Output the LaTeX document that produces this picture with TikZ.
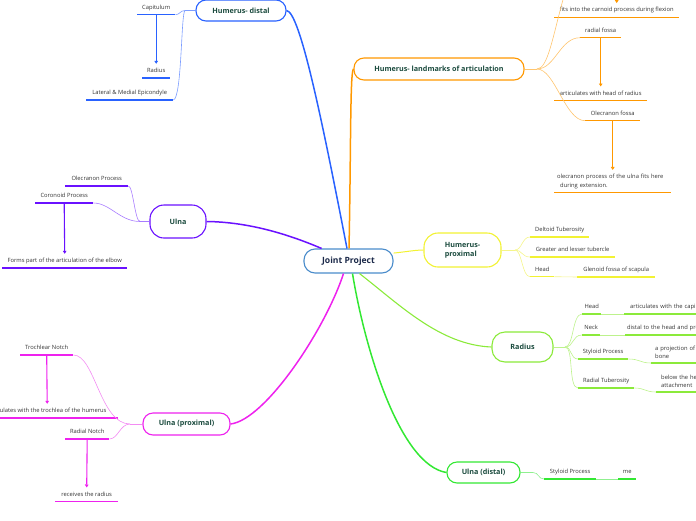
\documentclass[tikz,border=0pt]{standalone}
\usepackage{fontspec}
\setmainfont{Open Sans}
\usetikzlibrary{arrows.meta,calc}
\definecolor{cblue}{HTML}{2962FF}
\definecolor{lblue}{HTML}{7B9CFF}
\definecolor{corange}{HTML}{FF9800}
\definecolor{lorange}{HTML}{FFC56E}
\definecolor{cpurple}{HTML}{6A11FF}
\definecolor{lpurple}{HTML}{A77BFF}
\definecolor{cyellow}{HTML}{F2F233}
\definecolor{lyellow}{HTML}{F5F58A}
\definecolor{clime}{HTML}{8BEA3A}
\definecolor{llime}{HTML}{BDF28C}
\definecolor{cgreen}{HTML}{33E833}
\definecolor{lgreen}{HTML}{8FF08F}
\definecolor{cmag}{HTML}{EE22EE}
\definecolor{lmag}{HTML}{F38CF3}
\definecolor{jpborder}{HTML}{4A8CCB}
\definecolor{tgreen}{HTML}{1B4B3E}
\definecolor{tnavy}{HTML}{1C2A4A}
\definecolor{tgray}{HTML}{333333}
\begin{document}
\begin{tikzpicture}[x=1pt,y=-1pt,
  title/.style={draw=#1, line width=1.1pt, rounded corners=10pt, fill=white,
    font=\bfseries\fontsize{7.2}{9}\selectfont, text=tgreen, inner sep=0pt, align=center},
  lbl/.style={font=\fontsize{5.8}{8}\selectfont, text=tgray, inner xsep=0pt, inner ysep=4pt,
    text height=4.5pt, text depth=1.3pt, anchor=south west,
    append after command={(\tikzlastnode.south west) edge[draw=#1, line width=1.3pt] (\tikzlastnode.south east)}},
  mlbl/.style={font=\fontsize{5.8}{8.5}\selectfont, text=tgray, inner xsep=3pt, inner ysep=4pt,
    anchor=south west, align=left,
    append after command={(\tikzlastnode.south west) edge[draw=#1, line width=1.3pt] (\tikzlastnode.south east)}},
  main/.style={line width=1.5pt, draw=#1},
  thin/.style={line width=0.6pt, draw=#1},
  arr/.style={-{Triangle[length=3pt,width=3.6pt]}, line width=1.1pt, draw=#1}
]
\useasboundingbox (0,0) rectangle (696,520);
\clip (0,0) rectangle (696,520);

% central node
\node[draw=jpborder, line width=1.1pt, rounded corners=11pt, fill=white, text=tnavy,
  font=\bfseries\fontsize{8.6}{10}\selectfont, minimum width=89pt, minimum height=24pt, inner sep=0pt]
  (jp) at (348.5,261) {Joint Project};

% main topic nodes
\node[title=cblue, minimum width=90pt, minimum height=21pt] (hd) at (241,10.5) {Humerus- distal};
\node[title=corange, minimum width=170pt, minimum height=22pt] (hl) at (439,69) {Humerus- landmarks of articulation};
\node[title=cpurple, minimum width=56pt, minimum height=33pt, rounded corners=14pt] (ul) at (178,221.5) {Ulna};
\node[title=cyellow, minimum width=77pt, minimum height=34pt, rounded corners=14pt, align=left] (hp) at (462.5,250) {Humerus-\\proximal};
\node[title=clime, minimum width=61pt, minimum height=30pt, rounded corners=13pt] (ra) at (522.5,347) {Radius};
\node[title=cgreen, minimum width=73pt, minimum height=21pt] (ud) at (483.5,472.5) {Ulna (distal)};
\node[title=cmag, minimum width=87pt, minimum height=22pt] (up) at (186.5,424) {Ulna (proximal)};

% main connectors
\draw[main=cblue] ($(jp.north)+(-1.5,0)$) .. controls (322,120) and (300,12) .. (hd.east);
\draw[main=corange] ($(jp.north)+(0.5,0)$) .. controls (351,150) and (350,72) .. (hl.west);
\draw[main=cpurple] (jp.155) .. controls (290,235) and (250,222) .. (ul.east);
\draw[main=cyellow, line width=1pt] (jp.10) .. controls (405,252) and (415,250) .. (hp.west);
\draw[main=clime, line width=1.1pt] ($(jp.south)+(11,0)$) .. controls (400,305) and (440,345) .. (ra.west);
\draw[main=cgreen] ($(jp.south)+(4,0)$) .. controls (365,350) and (400,465) .. (ud.west);
\draw[main=cmag] ($(jp.south)+(-5,0)$) .. controls (325,330) and (265,420) .. (up.east);

% ---------- Humerus distal
\node[lbl=cblue, minimum width=38pt] (cap) at (137,14.7) {Capitulum};
\node[lbl=cblue, minimum width=28pt] (rad) at (142,78) {Radius};
\node[lbl=cblue, minimum width=87pt] (lat) at (86,100) {Lateral \& Medial Epicondyle};
\coordinate (J1) at (185,10.5);
\draw[thin=lblue] (hd.west) -- (J1);
\draw[thin=lblue] (J1) .. controls (180,10.5) and (180,14.7) .. (cap.south east);
\draw[thin=lblue] (J1) .. controls (181,12) and (182,98) .. (lat.south east);
\draw[arr=cblue] (cap.south) -- (rad.north);

% ---------- Humerus landmarks
\node[lbl=corange, minimum width=125pt] (fits) at (554,17.3) {fits into the carnoid process during flexion};
\node[lbl=corange, minimum width=41pt] (rf) at (580,37.7) {radial fossa};
\node[lbl=corange, minimum width=93pt] (art) at (554,100.7) {articulates with head of radius};
\node[lbl=corange, minimum width=55pt] (of) at (585,120.7) {Olecranon fossa};
\node[mlbl=corange, text width=111pt] (opu) at (554,192.7) {olecranon process of the ulna fits here\\\hspace*{3pt}during extension.};
\coordinate (J2) at (537,69);
\coordinate (offtop) at (564,-4);
\coordinate (arrtop) at (616.5,-30);
\draw[thin=lorange] (hl.east) -- (J2);
\draw[thin=lorange] (J2) .. controls (548,69) and (553,35) .. (offtop);
\draw[thin=lorange] (J2) .. controls (555,69) and (560,37.7) .. (rf.south west);
\draw[thin=lorange] (J2) .. controls (555,69) and (565,120.7) .. (of.south west);
\draw[arr=corange] (arrtop) -- (fits.north);
\draw[arr=corange] (rf.south) -- (art.north);
\draw[arr=corange] (of.south) -- (opu.north);

% ---------- Ulna
\node[lbl=cpurple, minimum width=63pt] (op) at (65,186) {Olecranon Process};
\node[lbl=cpurple, minimum width=58pt] (cp) at (35,203) {Coronoid Process};
\node[lbl=cpurple, minimum width=125pt] (fp) at (2,268) {Forms part of the articulation of the elbow};
\coordinate (J3) at (140,221.5);
\draw[thin=lpurple] (ul.west) -- (J3);
\draw[thin=lpurple] (J3) .. controls (135,221.5) and (133,186) .. (op.south east);
\draw[thin=lpurple] (J3) .. controls (120,221.5) and (110,203) .. (cp.south east);
\draw[arr=cpurple] (cp.south) -- (fp.north);

% ---------- Humerus proximal
\node[lbl=cyellow, minimum width=59pt] (dt) at (530,237) {Deltoid Tuberosity};
\node[lbl=cyellow, minimum width=85pt] (gl) at (530,257) {Greater and lesser tubercle};
\node[lbl=cyellow, minimum width=24pt] (hh) at (530,276.7) {Head};
\node[lbl=cyellow, minimum width=78pt] (gf) at (577,277) {Glenoid fossa of scapula};
\coordinate (J4) at (515,250);
\draw[thin=lyellow] (hp.east) -- (J4);
\draw[thin=lyellow] (J4) .. controls (522,250) and (522,237) .. (dt.south west);
\draw[thin=lyellow] (J4) .. controls (522,250) and (522,257) .. (gl.south west);
\draw[thin=lyellow] (J4) .. controls (522,250) and (522,276.7) .. (hh.south west);
\draw[thin=lyellow] (hh.south east) -- (gf.south west);

% ---------- Radius
\node[lbl=clime, minimum width=19pt] (rh) at (582,314) {Head};
\node[mlbl=clime, text width=80pt, inner xsep=6pt, text height=4.5pt, text depth=1.3pt] (rha) at (624,314) {articulates with the capi};
\node[lbl=clime, minimum width=18pt] (rn) at (582,335) {Neck};
\node[mlbl=clime, text width=80pt, inner xsep=2pt, text height=4.5pt, text depth=1.3pt] (rna) at (625,335) {distal to the head and pro};
\node[lbl=clime, minimum width=50pt] (rs) at (578,359) {Styloid Process};
\node[mlbl=clime, text width=50pt, inner xsep=4pt] (rsa) at (651,363) {a projection of\\bone};
\node[lbl=clime, minimum width=56pt] (rt) at (578,388) {Radial Tuberosity};
\node[mlbl=clime, text width=50pt, inner xsep=5pt] (rta) at (656,392) {below the he\\attachment};
\coordinate (J5) at (565,347);
\draw[thin=llime] (ra.east) -- (J5);
\draw[thin=llime] (J5) .. controls (574,347) and (572,314) .. (rh.south west);
\draw[thin=llime] (J5) .. controls (574,347) and (572,335) .. (rn.south west);
\draw[thin=llime] (J5) .. controls (572,347) and (570,359) .. (rs.south west);
\draw[thin=llime] (J5) .. controls (574,347) and (568,388) .. (rt.south west);
\draw[thin=llime] (rh.south east) -- (rha.south west);
\draw[thin=llime] (rn.south east) -- (rna.south west);
\draw[thin=llime] (rs.south east) .. controls (640,359) and (640,363) .. (rsa.south west);
\draw[thin=llime] (rt.south east) .. controls (645,388) and (645,392) .. (rta.south west);

% ---------- Ulna distal
\node[lbl=cgreen, minimum width=52pt] (usp) at (544,479) {Styloid Process};
\node[lbl=cgreen, minimum width=18pt] (ume) at (618,479) {me};
\coordinate (J6) at (533,472.5);
\draw[thin=lgreen] (ud.east) -- (J6);
\draw[thin=lgreen] (J6) .. controls (539,472.5) and (538,479) .. (usp.south west);
\draw[thin=lgreen] (usp.south east) -- (ume.south west);

% ---------- Ulna proximal
\node[lbl=cmag, minimum width=53pt] (tn) at (20,355) {Trochlear Notch};
\node[lbl=cmag, minimum width=142pt] (atr) at (-24,418) {articulates with the trochlea of the humerus};
\node[lbl=cmag, minimum width=44pt] (rno) at (65,439) {Radial Notch};
\node[lbl=cmag, minimum width=63pt] (rec) at (55,501.7) {receives the radius};
\coordinate (J7) at (130,424);
\draw[thin=lmag] (up.west) -- (J7);
\draw[thin=lmag] (J7) .. controls (100,424) and (95,355) .. (tn.south east);
\draw[thin=lmag] (J7) .. controls (120,424) and (118,439) .. (rno.south east);
\draw[arr=cmag] (tn.south) -- (atr.north);
\draw[arr=cmag] (rno.south) -- (rec.north);
\end{tikzpicture}
\end{document}
